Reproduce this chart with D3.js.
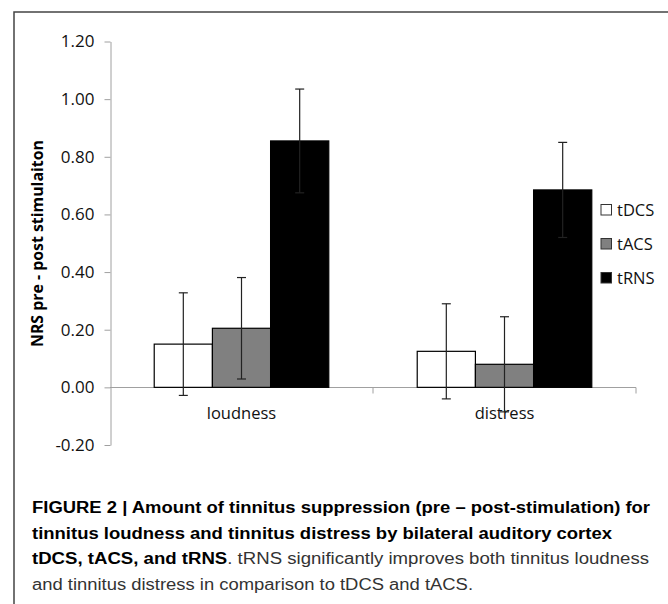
<!DOCTYPE html>
<html>
<head>
<meta charset="utf-8">
<script src="https://cdn.jsdelivr.net/npm/d3@7"></script>
<style>
  body { margin: 0; background: #fff; }
  #app { width: 668px; height: 604px; }
  svg { display: block; }
</style>
</head>
<body>
<div id="app"></div>
<script>
const categories = ["loudness", "distress"];
const seriesNames = ["tDCS", "tACS", "tRNS"];
const seriesColors = ["#ffffff", "#808080", "#000000"];
// mean values per series, in category order
const tDCS = [0.15, 0.125];
const tACS = [0.205, 0.08];
const tRNS = [0.855, 0.685];
// error bar half-widths
const tDCSErr = [0.178, 0.165];
const tACSErr = [0.176, 0.165];
const tRNSErr = [0.18, 0.165];
const yTicks = [-0.2, 0, 0.2, 0.4, 0.6, 0.8, 1.0, 1.2];

const values = [tDCS, tACS, tRNS];
const errors = [tDCSErr, tACSErr, tRNSErr];

const width = 668, height = 604;
const svg = d3.select("#app").append("svg")
  .attr("width", width).attr("height", height);

// frame lines (top and left)
svg.append("path")
  .attr("d", `M14,${height} V12 H${width}`)
  .attr("fill", "none").attr("stroke", "#444").attr("stroke-width", 1.5);

const plot = { left: 110, right: 636, top: 41.5, bottom: 445 };

const y = d3.scaleLinear().domain([-0.2, 1.2]).range([plot.bottom, plot.top]);
const x0 = d3.scaleBand().domain(categories).range([plot.left, plot.right]).paddingInner(0).paddingOuter(0);
const x1 = d3.scaleBand().domain(seriesNames).range([0, x0.bandwidth()]).paddingOuter(0.76);

const font = "'Open Sans', sans-serif";
const fmt = d => d3.format(".2f")(d).replace("\u2212", "-");

// y axis
const yAxis = svg.append("g")
  .attr("transform", `translate(${plot.left + 0.5},0)`)
  .call(d3.axisLeft(y).tickValues(yTicks).tickFormat(fmt).tickSizeInner(6).tickSizeOuter(0));
yAxis.select(".domain").attr("stroke", "#a0a0a0");
yAxis.selectAll(".tick line").attr("stroke", "#a0a0a0");
yAxis.selectAll(".tick text")
  .attr("x", -16)
  .attr("fill", "#111")
  .style("font-family", font).style("font-size", "17px");

// x axis at zero
const xAxis = svg.append("g")
  .attr("transform", `translate(0,${Math.round(y(0)) + 0.5})`);
xAxis.append("line")
  .attr("x1", plot.left).attr("x2", plot.right)
  .attr("stroke", "#a0a0a0");
const boundaries = categories.map(c => x0(c) + x0.bandwidth());
xAxis.selectAll("line.tk").data(boundaries).enter().append("line")
  .attr("class", "tk")
  .attr("x1", d => d).attr("x2", d => d)
  .attr("y1", 0).attr("y2", 6)
  .attr("stroke", "#a0a0a0");
xAxis.selectAll("text").data(categories).enter().append("text")
  .attr("x", d => x0(d) + x0.bandwidth() / 2)
  .attr("y", 31.5)
  .attr("text-anchor", "middle")
  .attr("fill", "#111")
  .style("font-family", font).style("font-size", "16.5px")
  .text(d => d);

// bars
const bars = [];
seriesNames.forEach((s, si) => {
  categories.forEach((c, ci) => {
    bars.push({ s, si, c, v: values[si][ci], e: errors[si][ci] });
  });
});

svg.append("g").selectAll("rect").data(bars).enter().append("rect")
  .attr("x", d => x0(d.c) + x1(d.s))
  .attr("y", d => y(Math.max(0, d.v)))
  .attr("width", x1.bandwidth())
  .attr("height", d => Math.abs(y(d.v) - y(0)))
  .attr("fill", d => seriesColors[d.si])
  .attr("stroke", "#000").attr("stroke-width", 1.2);

// error bars
const eb = svg.append("g").attr("stroke", "#222").attr("stroke-width", 1.2);
bars.forEach(d => {
  const cx = x0(d.c) + x1(d.s) + x1.bandwidth() / 2;
  const yt = y(d.v + d.e), yb = y(d.v - d.e);
  eb.append("line").attr("x1", cx).attr("x2", cx).attr("y1", yt).attr("y2", yb);
  eb.append("line").attr("x1", cx - 4.5).attr("x2", cx + 4.5).attr("y1", yt).attr("y2", yt);
  eb.append("line").attr("x1", cx - 4.5).attr("x2", cx + 4.5).attr("y1", yb).attr("y2", yb);
});

// y axis title
svg.append("text")
  .attr("transform", "translate(43,243.5) rotate(-90)")
  .attr("text-anchor", "middle")
  .attr("textLength", 207).attr("lengthAdjust", "spacingAndGlyphs")
  .attr("fill", "#000")
  .style("font-family", font).style("font-size", "15.5px").style("font-weight", "bold")
  .text("NRS pre - post stimulaiton");

// legend
const legend = svg.append("g").attr("transform", "translate(600,0)");
const legendBase = [216, 250, 284];
seriesNames.forEach((s, i) => {
  legend.append("rect")
    .attr("x", 1).attr("y", legendBase[i] - 11.5)
    .attr("width", 10.5).attr("height", 10.5)
    .attr("fill", seriesColors[i]).attr("stroke", "#333").attr("stroke-width", 1);
  legend.append("text")
    .attr("x", 17).attr("y", legendBase[i])
    .attr("fill", "#111")
    .style("font-family", font).style("font-size", "16.5px")
    .text(s);
});

// caption
const capFont = "'Liberation Sans Narrow', 'Liberation Sans', Arial, sans-serif";
const captionLines = [
  [["FIGURE 2 | Amount of tinnitus suppression (pre \u2013 post-stimulation) for", true]],
  [["tinnitus loudness and tinnitus distress by bilateral auditory cortex", true]],
  [["tDCS, tACS, and tRNS", true], [". tRNS significantly improves both tinnitus loudness", false]],
  [["and tinnitus distress in comparison to tDCS and tACS.", false]]
];
const captionWidths = [618, 580, 617, 441];
const captionBase = [513, 538.5, 564, 589.5];
const cap = svg.append("g");
captionLines.forEach((line, i) => {
  const t = cap.append("text")
    .attr("x", 32).attr("y", captionBase[i])
    .attr("textLength", captionWidths[i]).attr("lengthAdjust", "spacingAndGlyphs")
    .style("font-family", capFont).style("font-size", "16px");
  line.forEach(([txt, bold]) => {
    t.append("tspan").style("font-weight", bold ? "bold" : "normal")
      .attr("fill", bold ? "#000" : "#333")
      .text(txt);
  });
});
</script>
</body>
</html>
